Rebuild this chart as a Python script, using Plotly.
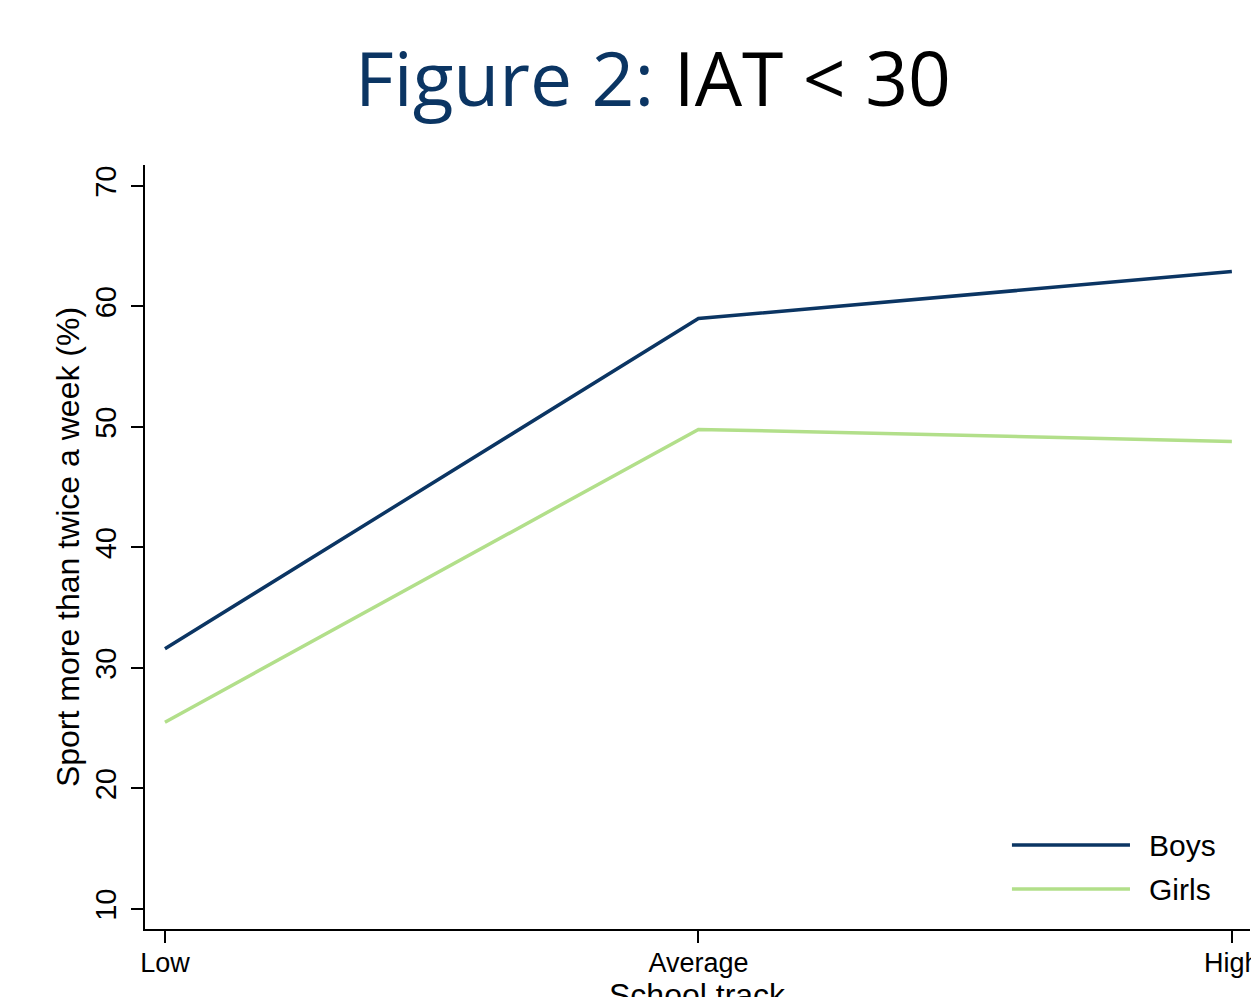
import plotly.graph_objects as go

categories = ["Low", "Average", "High"]
boys = [31.6, 59.0, 62.9]
girls = [25.5, 49.8, 48.8]
series_names = ["Boys", "Girls"]
series_colors = ["#0b3563", "#b2df8a"]
y_ticks = [10, 20, 30, 40, 50, 60, 70]

OFF = 8  # page body margin
W, H = 1259 - OFF, 997 - OFF
ML, MR, MT, MB = 145 - OFF, 0, 165 - OFF, 68
font_fam = "Liberation Sans, Arial, sans-serif"

fig = go.Figure()
for name, vals, col in zip(series_names, [boys, girls], series_colors):
    fig.add_trace(go.Scatter(x=categories, y=vals, mode="lines", name=name,
                             line=dict(color=col, width=3.5), showlegend=False))

pw = W - ML - MR
ph = H - MT - MB
def px_x(p):
    return (p - OFF - ML) / pw
def px_y(p):
    return (H + OFF - MB - p) / ph

# manual legend (long line samples like the original)
leg_rows = [845, 889]
for name, col, ry in zip(series_names, series_colors, leg_rows):
    fig.add_shape(type="line", xref="paper", yref="paper",
                  x0=px_x(1019), x1=px_x(1138), y0=px_y(ry), y1=px_y(ry),
                  line=dict(color=col, width=3.5))
    fig.add_annotation(xref="paper", yref="paper", x=px_x(1155), y=px_y(ry),
                       text=name, showarrow=False, xanchor="left", yanchor="middle",
                       font=dict(family=font_fam, size=30, color="black"))

# x axis title (cut off at bottom as in reference)
fig.add_annotation(xref="paper", yref="paper", x=px_x(702), y=px_y(975),
                   text="School track", showarrow=False, xanchor="center", yanchor="top",
                   font=dict(family=font_fam, size=32, color="black"))

fig.update_layout(
    width=W, height=H,
    margin=dict(l=ML, r=MR, t=MT, b=MB),
    paper_bgcolor="white", plot_bgcolor="white",
    title=dict(
        text="<span style='color:#0b3563'>Figure 2:</span> IAT &lt; 30",
        xref="container", x=(653 - OFF) / W, xanchor="center",
        yref="container", y=1 - (80 - OFF) / H, yanchor="middle",
        font=dict(family="Open Sans, sans-serif", size=75, color="black"),
    ),
    font=dict(family=font_fam, size=26, color="black"),
)

fig.update_xaxes(
    type="category", range=[-0.0374, 2.034],
    showline=True, linecolor="black", linewidth=1.5, mirror=False,
    ticks="outside", ticklen=12, tickwidth=1.5, tickcolor="black",
    showgrid=False, zeroline=False, ticklabelstandoff=-3,
    tickfont=dict(family=font_fam, size=27, color="black"),
)
fig.update_yaxes(
    range=[8.34, 71.74], tickvals=y_ticks,
    showline=True, linecolor="black", linewidth=1.5,
    ticks="outside", ticklen=12, tickwidth=1.5, tickcolor="black",
    showgrid=False, zeroline=False, tickangle=-90, ticklabelstandoff=4,
    tickfont=dict(family=font_fam, size=29, color="black"),
    title=dict(text="Sport more than twice a week (%)", standoff=0,
               font=dict(family=font_fam, size=32, color="black")),
)

fig.write_html("out.html")
